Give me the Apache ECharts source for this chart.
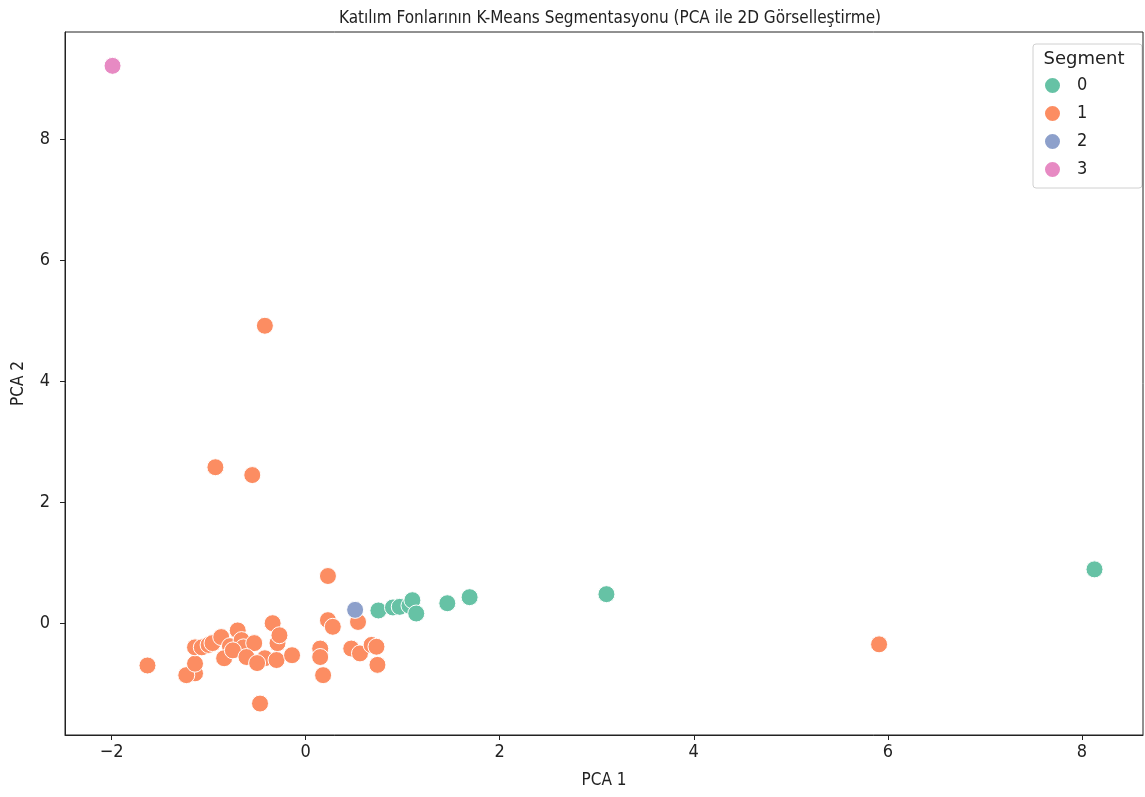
<!DOCTYPE html>
<html><head><meta charset="utf-8">
<script src="https://cdn.jsdelivr.net/npm/echarts@6/dist/echarts.min.js"></script>
<style>html,body{margin:0;padding:0;background:#fff}#c{width:1145px;height:797px}</style>
</head><body><div id="c"></div>
<script>
const segmentNames = ['0','1','2','3'];
const segmentColors = ['#66c2a5','#fc8d62','#8da0cb','#e78ac3'];
const seg0 = [[0.75,0.21],[0.90,0.26],[0.97,0.27],[1.07,0.29],[1.10,0.38],[1.14,0.16],[1.46,0.33],[1.69,0.43],[3.10,0.48],[8.13,0.89]];
const seg1 = [[-0.42,4.92],[-0.93,2.58],[-0.55,2.45],[0.23,0.78],[5.91,-0.35],
  [-1.63,-0.70],[-1.14,-0.83],[-1.23,-0.86],[-1.14,-0.67],
  [-1.14,-0.40],[-1.07,-0.40],[-1.00,-0.36],[-0.96,-0.33],[-0.87,-0.23],[-0.78,-0.38],[-0.70,-0.12],[-0.66,-0.28],[-0.64,-0.40],[-0.53,-0.33],[-0.34,0.0],[-0.29,-0.33],[-0.27,-0.20],
  [-0.84,-0.58],[-0.75,-0.45],[-0.61,-0.56],[-0.42,-0.58],[-0.50,-0.66],[-0.30,-0.61],[-0.14,-0.53],[-0.47,-1.33],
  [0.23,0.05],[0.28,-0.06],[0.54,0.02],[0.15,-0.42],[0.15,-0.56],[0.18,-0.86],[0.47,-0.42],[0.56,-0.50],[0.68,-0.36],[0.73,-0.39],[0.74,-0.69]];
const seg2 = [[0.51,0.22]];
const seg3 = [[-1.99,9.22]];
const segData = [seg0, seg1, seg2, seg3];
const seriesZ = [3, 2, 4, 5];

const chart = echarts.init(document.getElementById('c'), null, {renderer:'canvas'});
const font = '"DejaVu Sans Condensed", "DejaVu Sans"';
const axisCommon = {
  axisLine:{show:true, onZero:false, lineStyle:{color:'#222', width:1}},
  axisTick:{show:true, length:5, lineStyle:{color:'#222'}},
  axisLabel:{color:'#222', fontSize:18, fontFamily:font, showMinLabel:false, showMaxLabel:false,
    formatter: v => String(v).replace('-', '\u2212')},
  splitLine:{show:false},
  nameTextStyle:{color:'#222', fontSize:17, fontFamily:font},
  nameLocation:'middle'
};
chart.setOption({
  animation:false,
  backgroundColor:'#fff',
  title:{text:'Katılım Fonlarının K-Means Segmentasyonu (PCA ile 2D Görselleştirme)', left:605, top:5, textAlign:'center',
    textStyle:{fontFamily:font, fontSize:17, fontWeight:'normal', color:'#222'}},
  grid:{left:65, right:2, top:32, bottom:62, show:true, borderColor:'#222', borderWidth:1, backgroundColor:'transparent'},
  xAxis:Object.assign({}, axisCommon, {type:'value', min:-2.48, max:8.63, splitNumber:5, name:'PCA 1', nameGap:37,
    axisLabel:Object.assign({}, axisCommon.axisLabel, {margin:8})}),
  yAxis:Object.assign({}, axisCommon, {type:'value', min:-1.85, max:9.78, splitNumber:5, name:'PCA 2', nameGap:38,
    axisLabel:Object.assign({}, axisCommon.axisLabel, {margin:15})}),
  legend:{orient:'vertical', left:1043, top:76, padding:0, itemWidth:17, itemHeight:17, itemGap:9, icon:'circle',
    data:segmentNames, textStyle:{fontFamily:font, fontSize:18, lineHeight:17, color:'#222', padding:[0,0,0,11]}},
  graphic:[
    {type:'rect', shape:{x:1033, y:44, width:109, height:144, r:3}, style:{fill:'rgba(255,255,255,0.8)', stroke:'#d0d0d0', lineWidth:1}, z:-1},
    {type:'text', x:1084, y:59, style:{text:'Segment', font:'18px "DejaVu Sans"', fill:'#222', textAlign:'center', textVerticalAlign:'middle'}}
  ],
  series: segmentNames.map((n,i)=>({
    name:n, type:'scatter', data:segData[i], symbolSize:17, z:seriesZ[i],
    itemStyle:{color:segmentColors[i], borderColor:'#fff', borderWidth:1, opacity:1}
  }))
});
</script></body></html>
